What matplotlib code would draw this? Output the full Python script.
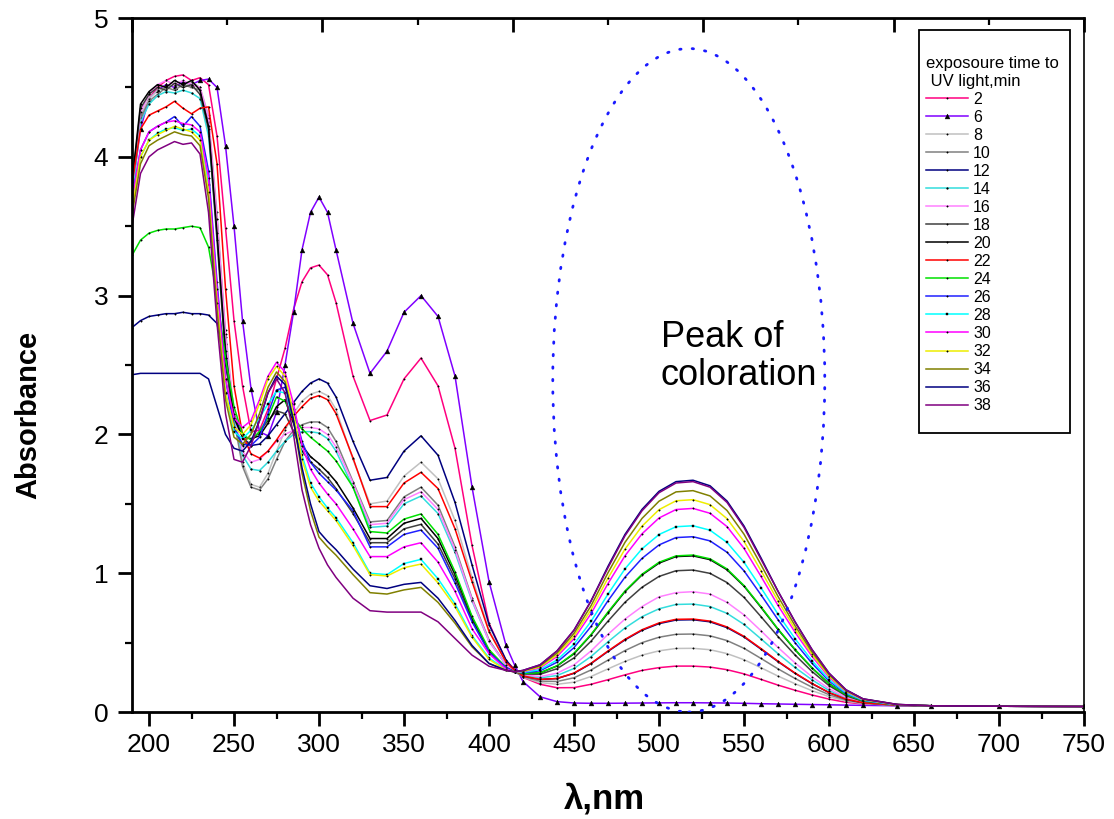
import matplotlib
matplotlib.use("Agg")
import matplotlib.pyplot as plt
from matplotlib.patches import Ellipse, Rectangle
from matplotlib.ticker import MultipleLocator

plt.rcParams['font.family'] = ['Liberation Sans', 'DejaVu Sans']

# wavelength grid, nm
wl = [190, 195, 200, 205, 210, 215, 220, 225, 230, 235, 240,
      245, 250, 255, 260, 265, 270, 275, 280, 285, 290, 295, 300, 305, 310,
      320, 330, 340, 350, 360, 370, 380, 390, 400, 410, 415,
      420, 430, 440, 450, 460, 470, 480, 490, 500, 510, 520, 530, 540, 550,
      560, 570, 580, 590, 600, 610, 620, 640, 660, 700, 750]

# absorbance, one list per exposure time (min)
a2 = [3.80, 4.25, 4.42, 4.50, 4.55, 4.58, 4.59, 4.55, 4.57, 4.52, 4.15,
      3.49, 2.82, 2.35, 2.02, 2.03, 2.18, 2.40, 2.62, 2.90, 3.10, 3.20, 3.22, 3.15, 2.95,
      2.42, 2.10, 2.14, 2.40, 2.55, 2.35, 1.90, 1.20, 0.64, 0.37, 0.31,
      0.25, 0.20, 0.175, 0.176, 0.20, 0.233, 0.268, 0.30, 0.32, 0.331, 0.331, 0.324, 0.305, 0.275,
      0.235, 0.194, 0.157, 0.123, 0.093, 0.07, 0.058, 0.046, 0.045, 0.042, 0.04]
a6 = [3.75, 4.20, 4.42, 4.48, 4.52, 4.50, 4.54, 4.52, 4.55, 4.56, 4.50,
      4.08, 3.50, 2.82, 2.33, 2.02, 1.99, 2.16, 2.50, 2.88, 3.33, 3.60, 3.71, 3.60, 3.33,
      2.80, 2.44, 2.60, 2.88, 3.00, 2.85, 2.42, 1.62, 0.94, 0.48, 0.34,
      0.22, 0.11, 0.075, 0.065, 0.063, 0.063, 0.064, 0.065, 0.066, 0.067, 0.067, 0.066, 0.065, 0.063,
      0.06, 0.058, 0.056, 0.054, 0.052, 0.05, 0.048, 0.045, 0.044, 0.042, 0.04]
a8 = [3.75, 4.30, 4.42, 4.48, 4.50, 4.52, 4.50, 4.54, 4.50, 4.30, 3.60,
      2.75, 2.15, 1.80, 1.64, 1.62, 1.72, 1.88, 2.03, 2.15, 2.24, 2.29, 2.31, 2.28, 2.18,
      1.82, 1.50, 1.52, 1.70, 1.80, 1.68, 1.38, 0.97, 0.59, 0.37, 0.30,
      0.251, 0.212, 0.20, 0.215, 0.256, 0.311, 0.365, 0.41, 0.441, 0.458, 0.459, 0.449, 0.421, 0.377,
      0.319, 0.259, 0.204, 0.154, 0.111, 0.079, 0.061, 0.047, 0.045, 0.042, 0.04]
a10 = [3.72, 4.28, 4.40, 4.45, 4.50, 4.48, 4.52, 4.50, 4.48, 4.25, 3.55,
       2.70, 2.10, 1.77, 1.62, 1.60, 1.68, 1.82, 1.95, 2.03, 2.07, 2.09, 2.09, 2.05, 1.95,
       1.66, 1.37, 1.38, 1.55, 1.62, 1.49, 1.19, 0.82, 0.52, 0.34, 0.29,
       0.255, 0.223, 0.22, 0.247, 0.303, 0.374, 0.443, 0.50, 0.539, 0.56, 0.562, 0.549, 0.515, 0.459,
       0.386, 0.311, 0.242, 0.179, 0.125, 0.086, 0.064, 0.048, 0.045, 0.042, 0.04]
a12 = [2.77, 2.82, 2.85, 2.86, 2.87, 2.87, 2.88, 2.87, 2.87, 2.86, 2.80,
       2.50, 2.15, 1.98, 1.92, 1.93, 1.99, 2.07, 2.15, 2.23, 2.31, 2.37, 2.40, 2.37, 2.27,
       1.95, 1.67, 1.69, 1.88, 1.99, 1.85, 1.51, 1.06, 0.63, 0.375, 0.30,
       0.26, 0.235, 0.241, 0.279, 0.349, 0.437, 0.52, 0.589, 0.637, 0.663, 0.665, 0.65, 0.608, 0.541,
       0.453, 0.363, 0.279, 0.204, 0.14, 0.093, 0.067, 0.049, 0.045, 0.042, 0.04]
a14 = [3.70, 4.25, 4.38, 4.44, 4.47, 4.46, 4.48, 4.46, 4.42, 4.15, 3.45,
       2.65, 2.12, 1.85, 1.75, 1.74, 1.80, 1.88, 1.95, 2.00, 2.02, 2.02, 2.01, 1.97, 1.88,
       1.62, 1.33, 1.34, 1.50, 1.556, 1.43, 1.15, 0.80, 0.51, 0.34, 0.29,
       0.264, 0.246, 0.263, 0.314, 0.40, 0.506, 0.606, 0.687, 0.744, 0.775, 0.778, 0.76, 0.711, 0.631,
       0.527, 0.42, 0.321, 0.232, 0.155, 0.10, 0.07, 0.049, 0.045, 0.042, 0.04]
a16 = [3.78, 4.32, 4.45, 4.52, 4.55, 4.52, 4.55, 4.52, 4.50, 4.28, 3.55,
       2.72, 2.15, 1.88, 1.80, 1.82, 1.88, 1.95, 2.00, 2.03, 2.05, 2.05, 2.04, 2.00, 1.91,
       1.65, 1.35, 1.36, 1.53, 1.587, 1.46, 1.17, 0.81, 0.51, 0.34, 0.29,
       0.27, 0.255, 0.28, 0.34, 0.44, 0.56, 0.67, 0.76, 0.83, 0.86, 0.867, 0.85, 0.79, 0.70,
       0.585, 0.465, 0.354, 0.254, 0.168, 0.106, 0.073, 0.05, 0.045, 0.042, 0.04]
a18 = [3.80, 4.35, 4.45, 4.50, 4.48, 4.53, 4.50, 4.52, 4.45, 4.20, 3.40,
       2.55, 2.05, 1.92, 1.95, 2.02, 2.10, 2.17, 2.15, 2.02, 1.88, 1.80, 1.75, 1.69, 1.61,
       1.43, 1.22, 1.22, 1.32, 1.352, 1.21, 0.96, 0.66, 0.44, 0.32, 0.29,
       0.274, 0.272, 0.312, 0.39, 0.51, 0.655, 0.791, 0.899, 0.977, 1.018, 1.023, 0.999, 0.933, 0.826,
       0.687, 0.544, 0.411, 0.292, 0.19, 0.117, 0.077, 0.051, 0.045, 0.042, 0.04]
a20 = [3.82, 4.38, 4.47, 4.52, 4.50, 4.55, 4.52, 4.55, 4.48, 4.22, 3.45,
       2.60, 2.12, 1.98, 1.97, 1.99, 2.08, 2.20, 2.25, 2.08, 1.92, 1.84, 1.79, 1.73, 1.66,
       1.47, 1.25, 1.25, 1.36, 1.395, 1.25, 0.99, 0.68, 0.44, 0.32, 0.29,
       0.28, 0.282, 0.332, 0.42, 0.555, 0.715, 0.868, 0.988, 1.073, 1.12, 1.125, 1.098, 1.025, 0.907,
       0.754, 0.595, 0.449, 0.317, 0.204, 0.124, 0.08, 0.051, 0.045, 0.042, 0.04]
a22 = [3.80, 4.20, 4.30, 4.33, 4.36, 4.40, 4.35, 4.31, 4.35, 4.36, 3.95,
       3.05, 2.35, 2.00, 1.86, 1.83, 1.88, 1.96, 2.05, 2.13, 2.20, 2.26, 2.28, 2.25, 2.15,
       1.83, 1.48, 1.48, 1.65, 1.727, 1.61, 1.32, 0.94, 0.58, 0.36, 0.30,
       0.26, 0.235, 0.242, 0.281, 0.351, 0.44, 0.524, 0.593, 0.642, 0.668, 0.67, 0.655, 0.613, 0.545,
       0.457, 0.366, 0.281, 0.206, 0.14, 0.093, 0.067, 0.049, 0.045, 0.042, 0.04]
a24 = [3.29, 3.40, 3.45, 3.47, 3.48, 3.48, 3.49, 3.50, 3.49, 3.35, 3.00,
       2.55, 2.20, 2.00, 1.96, 2.02, 2.12, 2.27, 2.24, 2.12, 2.04, 1.98, 1.93, 1.88, 1.81,
       1.62, 1.30, 1.29, 1.39, 1.427, 1.28, 1.01, 0.69, 0.45, 0.32, 0.29,
       0.278, 0.283, 0.333, 0.424, 0.558, 0.721, 0.872, 0.993, 1.079, 1.125, 1.131, 1.104, 1.031, 0.911,
       0.758, 0.598, 0.451, 0.319, 0.205, 0.124, 0.08, 0.051, 0.045, 0.042, 0.04]
a26 = [3.70, 4.05, 4.18, 4.22, 4.25, 4.29, 4.22, 4.29, 4.22, 3.90, 3.10,
       2.40, 2.05, 1.93, 1.92, 1.98, 2.15, 2.32, 2.34, 2.18, 1.95, 1.80, 1.72, 1.66, 1.60,
       1.45, 1.19, 1.19, 1.28, 1.311, 1.18, 0.93, 0.65, 0.43, 0.32, 0.29,
       0.283, 0.297, 0.359, 0.464, 0.617, 0.802, 0.972, 1.107, 1.204, 1.257, 1.263, 1.233, 1.151, 1.017,
       0.844, 0.665, 0.50, 0.351, 0.223, 0.133, 0.084, 0.052, 0.045, 0.042, 0.04]
a28 = [3.65, 4.00, 4.12, 4.17, 4.20, 4.21, 4.19, 4.20, 4.15, 3.80, 2.95,
       2.30, 2.02, 1.97, 2.03, 2.12, 2.22, 2.31, 2.30, 2.12, 1.85, 1.65, 1.55, 1.47, 1.40,
       1.22, 1.00, 0.99, 1.07, 1.10, 0.96, 0.78, 0.55, 0.39, 0.305, 0.29,
       0.286, 0.305, 0.375, 0.489, 0.653, 0.85, 1.032, 1.176, 1.279, 1.335, 1.342, 1.31, 1.222, 1.079,
       0.895, 0.705, 0.529, 0.37, 0.234, 0.138, 0.086, 0.053, 0.045, 0.042, 0.04]
a30 = [3.68, 4.05, 4.18, 4.22, 4.25, 4.26, 4.24, 4.23, 4.18, 3.85, 3.05,
       2.40, 2.12, 2.05, 2.10, 2.25, 2.42, 2.52, 2.45, 2.22, 1.92, 1.75, 1.65, 1.57, 1.50,
       1.32, 1.12, 1.12, 1.19, 1.22, 1.08, 0.87, 0.60, 0.42, 0.31, 0.29,
       0.291, 0.318, 0.40, 0.528, 0.709, 0.926, 1.126, 1.284, 1.398, 1.459, 1.467, 1.432, 1.336, 1.179,
       0.977, 0.768, 0.575, 0.401, 0.251, 0.147, 0.09, 0.053, 0.045, 0.042, 0.04]
a32 = [3.62, 4.00, 4.12, 4.16, 4.19, 4.22, 4.20, 4.18, 4.12, 3.75, 2.95,
       2.30, 2.05, 2.00, 2.07, 2.22, 2.40, 2.49, 2.42, 2.15, 1.82, 1.62, 1.52, 1.45, 1.38,
       1.20, 0.99, 0.98, 1.04, 1.066, 0.93, 0.76, 0.54, 0.38, 0.30, 0.29,
       0.294, 0.325, 0.412, 0.547, 0.737, 0.965, 1.174, 1.339, 1.458, 1.522, 1.53, 1.494, 1.393, 1.229,
       1.018, 0.80, 0.598, 0.416, 0.26, 0.151, 0.091, 0.054, 0.045, 0.042, 0.04]
a34 = [3.58, 3.95, 4.08, 4.12, 4.15, 4.18, 4.16, 4.15, 4.08, 3.70, 2.90,
       2.25, 1.98, 1.93, 2.00, 2.15, 2.34, 2.45, 2.38, 2.10, 1.72, 1.45, 1.26, 1.19, 1.13,
       0.99, 0.86, 0.85, 0.88, 0.898, 0.79, 0.64, 0.47, 0.35, 0.30, 0.29,
       0.297, 0.332, 0.425, 0.567, 0.766, 1.004, 1.223, 1.395, 1.519, 1.586, 1.595, 1.557, 1.452, 1.281,
       1.061, 0.833, 0.622, 0.432, 0.269, 0.155, 0.093, 0.054, 0.045, 0.042, 0.04]
a36 = [2.43, 2.44, 2.44, 2.44, 2.44, 2.44, 2.44, 2.44, 2.44, 2.40, 2.20,
       2.00, 1.90, 1.88, 1.95, 2.10, 2.30, 2.42, 2.36, 2.10, 1.76, 1.50, 1.30, 1.23, 1.17,
       1.03, 0.91, 0.89, 0.92, 0.934, 0.82, 0.66, 0.48, 0.35, 0.30, 0.29,
       0.30, 0.34, 0.44, 0.59, 0.80, 1.05, 1.28, 1.46, 1.59, 1.66, 1.67, 1.63, 1.52, 1.34,
       1.11, 0.87, 0.65, 0.45, 0.28, 0.16, 0.095, 0.055, 0.045, 0.042, 0.04]
a38 = [3.50, 3.88, 4.00, 4.05, 4.08, 4.11, 4.09, 4.10, 4.02, 3.60, 2.80,
       2.15, 1.82, 1.80, 1.92, 2.10, 2.30, 2.40, 2.30, 2.00, 1.60, 1.35, 1.18, 1.06, 0.97,
       0.82, 0.73, 0.72, 0.72, 0.72, 0.65, 0.53, 0.41, 0.33, 0.30, 0.29,
       0.30, 0.34, 0.44, 0.59, 0.80, 1.04, 1.27, 1.45, 1.58, 1.65, 1.66, 1.62, 1.51, 1.33,
       1.10, 0.87, 0.65, 0.45, 0.28, 0.16, 0.095, 0.055, 0.045, 0.042, 0.04]

labels = ['2', '6', '8', '10', '12', '14', '16', '18', '20', '22',
          '24', '26', '28', '30', '32', '34', '36', '38']
series = [a2, a6, a8, a10, a12, a14, a16, a18, a20, a22,
          a24, a26, a28, a30, a32, a34, a36, a38]

colors = ['#ff0080', '#8000ff', '#c0c0c0', '#808080', '#000080', '#33dddd',
          '#ff80ff', '#404040', '#000000', '#ff0000', '#00e000', '#2020ff',
          '#00ffff', '#ff00ff', '#eeee00', '#808000', '#000080', '#800080']
markers = ['.', '^', '.', '.', '.', '.', '.', '.', '.', '.',
           '.', '.', 's', '.', '.', '', '', '']
msizes = [2, 3.5, 2, 2, 2, 2.5, 2, 2, 2, 2, 2, 2, 2, 2, 2, 0, 0, 0]

fig = plt.figure(figsize=(11.14, 8.19), dpi=100)
ax = fig.add_axes([0.1185, 0.1306, 0.8546, 0.8474])

for lab, ys, col, mk, ms in zip(labels, series, colors, markers, msizes):
    ax.plot(wl, ys, color=col, lw=1.1, marker=mk if mk else None, ms=ms,
            mfc='k', mec='k', mew=0.3, label=lab)

# dotted ellipse around the visible band
ell = Ellipse((517.5, 2.39), 160, 4.78, fill=False, edgecolor='#1a1aff', lw=2.0,
              linestyle=(0, (0.5, 4.0)), capstyle='round', zorder=6)
ax.add_patch(ell)
ax.text(501, 2.56, 'Peak of\ncoloration', fontsize=26, ha='left', va='center',
        linespacing=1.12)

ax.set_xlim(190, 750)
ax.set_ylim(0, 5)
ax.xaxis.set_major_locator(MultipleLocator(50))
ax.xaxis.set_minor_locator(MultipleLocator(25))
ax.yaxis.set_major_locator(MultipleLocator(1))
ax.yaxis.set_minor_locator(MultipleLocator(0.5))
ax.tick_params(which='major', direction='out', length=10, width=2, labelsize=19)
ax.tick_params(which='minor', direction='out', length=5, width=1.6)
ax.tick_params(axis='x', pad=5)
ax.tick_params(axis='y', pad=7)
for side in ['left', 'bottom', 'top']:
    ax.spines[side].set_linewidth(2)
ax.spines['right'].set_linewidth(1.2)

# top axis with its own inward ticks
top = ax.twiny()
top.set_xlim(0, 1)
top.xaxis.set_major_locator(MultipleLocator(0.2))
top.xaxis.set_minor_locator(MultipleLocator(0.1))
top.tick_params(which='major', direction='in', length=10, width=2, labeltop=False)
top.tick_params(which='minor', direction='in', length=5, width=1.6)
for s in top.spines.values():
    s.set_visible(False)

fig.text(0.025, 0.493, 'Absorbance', rotation=90, fontsize=21, fontweight='bold',
         ha='center', va='center')
fig.text(0.543, 0.024, 'λ,nm', fontsize=25, fontweight='bold', ha='center', va='center')

# legend box
ax.add_patch(Rectangle((0.8267, 0.402), 0.1586, 0.5807, transform=ax.transAxes,
                       facecolor='white', edgecolor='k', lw=1.3, zorder=7))
leg = ax.legend(loc='upper left', bbox_to_anchor=(0.834, 0.945), frameon=False,
                title='exposoure time to\n UV light,min', fontsize=11.5, title_fontsize=12,
                handlelength=2.65, handletextpad=0.3, labelspacing=0.19,
                borderpad=0, borderaxespad=0, alignment='left')
leg.set_zorder(8)

fig.savefig('out.png', dpi=100)
